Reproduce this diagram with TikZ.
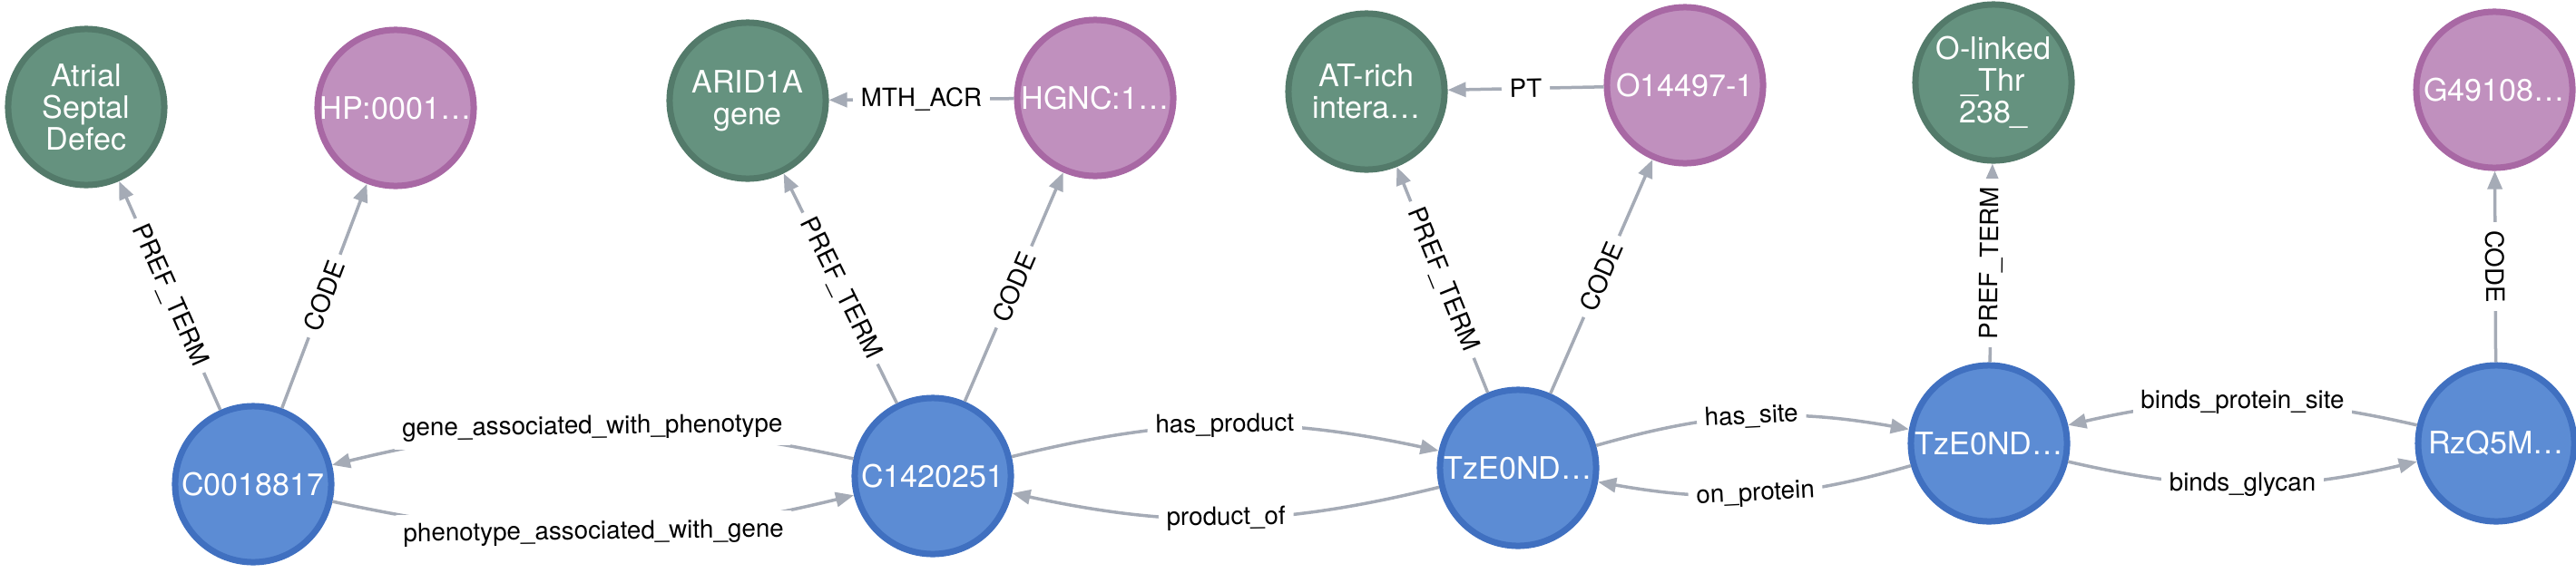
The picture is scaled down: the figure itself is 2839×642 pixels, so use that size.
\documentclass[tikz,border=0pt]{standalone}
\usepackage{fontspec}
\setmainfont{TeX Gyre Heros}
\usepackage{tikz}
\usetikzlibrary{arrows.meta}
\definecolor{termfill}{HTML}{65927F}
\definecolor{termline}{HTML}{537A6A}
\definecolor{codefill}{HTML}{C090BE}
\definecolor{codeline}{HTML}{A868A4}
\definecolor{cuifill}{HTML}{5C8CD4}
\definecolor{cuiline}{HTML}{4070C0}
\definecolor{relgray}{HTML}{A5ABB6}
\tikzset{
        vtx/.style={circle,minimum size=1.72cm,inner sep=0pt,line width=0.07cm,text=white,align=center,font=\fontsize{9.7}{10}\selectfont},
        termnode/.style={vtx,draw=termline,fill=termfill},
        codenode/.style={vtx,draw=codeline,fill=codefill},
        cuinode/.style={vtx,draw=cuiline,fill=cuifill},
        rel/.style={draw=relgray,line width=0.035cm,-{Triangle[length=0.2cm,width=0.16cm]}},
        lbl/.style={fill=white,inner sep=2.5pt,sloped,text=black,font=\fontsize{7.9}{9}\selectfont}
}

\begin{document}
\begin{tikzpicture}[x=0.01cm,y=-0.01cm]
        \useasboundingbox (0,0) rectangle (2839,642);

        \node[termnode] (AS) at (95,118) {Atrial\\Septal\\Defec};
        \node[codenode] (HP) at (436,119) {HP:0001…};
        \node[cuinode] (C1) at (279,534) {C0018817};
        \node[termnode] (AR) at (824,111) {ARID1A\\gene};
        \node[codenode] (HG) at (1207,108) {HGNC:1…};
        \node[cuinode] (C2) at (1028,525) {C1420251};
        \node[termnode] (AT) at (1506,101) {AT-rich\\intera…};
        \node[codenode] (OP) at (1857,94) {O14497-1};
        \node[cuinode] (T1) at (1673,516) {TzE0ND…};
        \node[termnode] (OL) at (2197,91) {O-linked\\\_Thr\\238\_};
        \node[cuinode] (T2) at (2192,489) {TzE0ND…};
        \node[codenode] (GL) at (2749,99) {G49108…};
        \node[cuinode] (RZ) at (2751,489) {RzQ5M…};

        \draw[rel] (C1) -- node[lbl]{PREF\_TERM} (AS);
        \draw[rel] (C1) -- node[lbl]{CODE} (HP);
        \draw[rel] (C2) to[bend right=13] node[lbl]{gene\_associated\_with\_phenotype} (C1);
        \draw[rel] (C1) to[bend right=13] node[lbl]{phenotype\_associated\_with\_gene} (C2);
        \draw[rel] (C2) -- node[lbl]{PREF\_TERM} (AR);
        \draw[rel] (C2) -- node[lbl]{CODE} (HG);
        \draw[rel] (HG) -- node[lbl]{MTH\_ACR} (AR);
        \draw[rel] (C2) to[bend left=13] node[lbl]{has\_product} (T1);
        \draw[rel] (T1) to[bend left=13] node[lbl]{product\_of} (C2);
        \draw[rel] (T1) -- node[lbl]{PREF\_TERM} (AT);
        \draw[rel] (T1) -- node[lbl]{CODE} (OP);
        \draw[rel] (OP) -- node[lbl]{PT} (AT);
        \draw[rel] (T1) to[bend left=13] node[lbl]{has\_site} (T2);
        \draw[rel] (T2) to[bend left=13] node[lbl]{on\_protein} (T1);
        \draw[rel] (T2) -- node[lbl]{PREF\_TERM} (OL);
        \draw[rel] (RZ) to[bend right=13] node[lbl]{binds\_protein\_site} (T2);
        \draw[rel] (T2) to[bend right=13] node[lbl]{binds\_glycan} (RZ);
        \draw[rel] (RZ) -- node[lbl]{CODE} (GL);
\end{tikzpicture}
\end{document}
